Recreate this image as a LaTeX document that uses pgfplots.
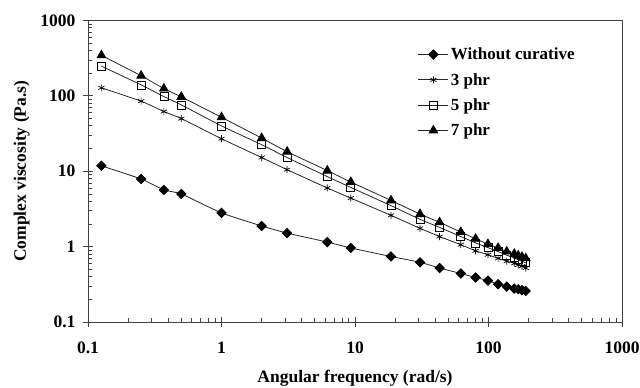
\documentclass[border=0pt]{standalone}
\usepackage{fontspec}
\setmainfont{Liberation Serif}
\usepackage{pgfplots}
\pgfplotsset{compat=1.18}
\pgfplotstableread{
f      a      b     c     d
0.126  11.8   128   248   345
0.25   7.9    85    140   185
0.37   5.65   62    98    125
0.5    5.0    50    76    97
1      2.8    27    40    52
2      1.88   15.2  22.5  27.5
3.1    1.51   10.5  15.2  18.2
6.2    1.15   6.0   8.5   10.2
9.3    0.96   4.4   6.1   7.2
18.6   0.74   2.6   3.5   4.1
30.7   0.62   1.75  2.3   2.7
43     0.52   1.36  1.8   2.1
62     0.44   1.06  1.36  1.56
80     0.39   0.88  1.12  1.27
99     0.354  0.78  0.97  1.08
118    0.317  0.70  0.86  0.96
137    0.294  0.64  0.77  0.86
156    0.277  0.60  0.71  0.80
167    0.272  0.57  0.67  0.76
178    0.265  0.55  0.64  0.73
190    0.258  0.52  0.61  0.70
}\data
\begin{document}
\begin{tikzpicture}
\begin{axis}[
  name=ax,
  scale only axis,
  width=534pt, height=301.5pt,
  xmode=log, ymode=log,
  xmin=0.1, xmax=1000, ymin=0.1, ymax=1000,
  axis line style={black!75, line width=0.9pt},
  xtick={0.1,1,10,100,1000}, xticklabels={0.1,1,10,100,1000},
  ytick={0.1,1,10,100,1000}, yticklabels={0.1,1,10,100,1000},
  xtick pos=left, ytick pos=left,
  tick align=inside,
  major tick length=10pt, minor tick length=4pt,
  every major x tick/.append style={yshift=-5pt},
  every major y tick/.append style={xshift=-5pt},
  tick style={black!75, line width=0.8pt},
  ticklabel style={font=\fontsize{17.5}{20}\selectfont\bfseries},
  xticklabel style={yshift=-16pt},
  yticklabel style={xshift=-9pt},
  xlabel={Angular frequency (rad/s)},
  ylabel={Complex viscosity (Pa.s)},
  label style={font=\fontsize{17.5}{20}\selectfont\bfseries},
  xlabel style={yshift=-10pt},
  ylabel style={yshift=4pt},
  legend cell align=left,
  legend style={at={(0.612,0.923)}, anchor=north west, draw=none, fill=none,
    font=\fontsize{17}{20}\selectfont\bfseries, row sep=8pt},
  legend image code/.code={\draw[#1, mark repeat=2, mark phase=2] plot coordinates {(0pt,0pt) (15pt,0pt) (30pt,0pt)};},
  every axis plot/.append style={black!85, line width=0.8pt, smooth, tension=0.3},
]
\addplot[mark=square*, mark size=3.3pt, mark options={rotate=45, fill=black, draw=black}] table[x=f,y=a] {\data};
\addlegendentry{Without curative}
\addplot[mark=asterisk, mark size=3.5pt, mark options={draw=black, line width=0.7pt}] table[x=f,y=b] {\data};
\addlegendentry{3 phr}
\addplot[mark=square, mark size=4pt, mark options={draw=black, fill=white, line width=0.7pt}] table[x=f,y=c] {\data};
\addlegendentry{5 phr}
\addplot[mark=triangle*, mark size=5pt, mark options={fill=black, draw=black}] table[x=f,y=d] {\data};
\addlegendentry{7 phr}
\coordinate (bl) at (rel axis cs:0,0);
\coordinate (tr) at (rel axis cs:1,1);
\end{axis}
\pgfresetboundingbox
\path ([shift={(-88pt,-66pt)}]bl) rectangle ([shift={(18pt,20.5pt)}]tr);
\end{tikzpicture}
\end{document}
